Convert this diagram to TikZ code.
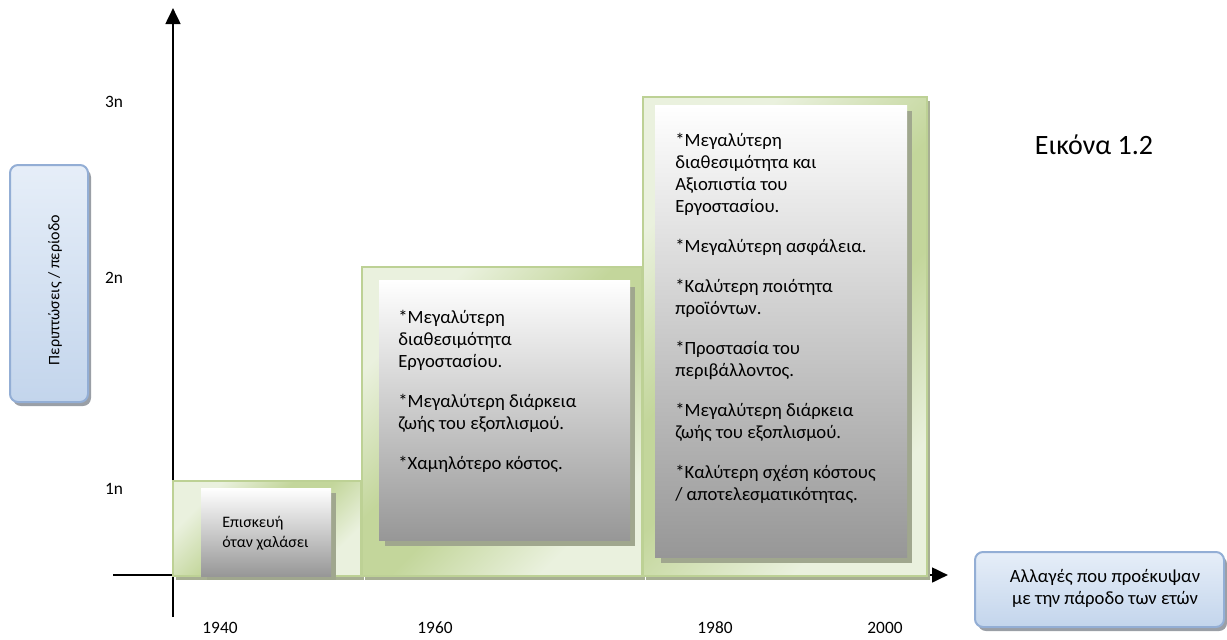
\documentclass[tikz,border=0pt]{standalone}
\usepackage{fontspec}
\setmainfont{Carlito}
\usetikzlibrary{arrows.meta}
\definecolor{greenlight}{HTML}{EAF1DE}
\definecolor{greendark}{HTML}{C3D69B}
\definecolor{greenedge}{HTML}{BDD195}
\definecolor{greenshadow}{HTML}{A7AF93}
\definecolor{panelshade}{HTML}{A0A78E}
\definecolor{panelbottom}{HTML}{979797}
\definecolor{bluelight}{HTML}{E6EEF8}
\definecolor{bluedark}{HTML}{C3D5EC}
\definecolor{blueedge}{HTML}{93AED5}
\definecolor{blueshadow}{HTML}{9A9FA6}
% light corners, green along the other diagonal
\pgfdeclarehorizontalshading{greenband}{100bp}{%
  color(0bp)=(greenlight); color(27bp)=(greenlight);
  color(45bp)=(greendark); color(55bp)=(greendark);
  color(73bp)=(greenlight); color(100bp)=(greenlight)}
\begin{document}
\begin{tikzpicture}[x=0.75pt,y=-0.75pt,
  axis/.style={line width=2pt,-{Triangle[length=12pt,width=11pt]}},
  stage/.style={shading=greenband,shading angle=-45,draw=greenedge,line width=1pt},
  stageshadow/.style={fill=greenshadow},
  panel/.style={top color=white,bottom color=panelbottom},
  panelshadow/.style={fill=panelshade},
  bluebox/.style={top color=bluelight,bottom color=bluedark,draw=blueedge,line width=1.5pt,rounded corners=6pt},
  blueshade/.style={fill=blueshadow,rounded corners=6pt},
  ticklabel/.style={font=\fontsize{13pt}{15pt}\selectfont,inner sep=0pt},
  paneltext/.style={anchor=north west,align=left,inner sep=0pt,font=\fontsize{14pt}{16.5pt}\selectfont},
  labeltext/.style={align=center,inner sep=0pt}]
\useasboundingbox (0,0) rectangle (1227,639);

% axes
\coordinate (ybot) at (173,617);
\coordinate (ytop) at (173,8);
\coordinate (xleft) at (113,575);
\coordinate (xright) at (948,575);
\draw[axis] (ybot) -- (ytop);
\draw[axis] (xleft) -- (xright);

% stage blocks
\fill[stageshadow] (176,484) rectangle (364,580);
\path[stage] (173,481) rectangle (361,576);
\fill[stageshadow] (365,270) rectangle (645,580);
\path[stage] (362,267) rectangle (642,576);
\fill[stageshadow] (646,101) rectangle (930,580);
\path[stage] (643,97) rectangle (927,576);

% text panels
\fill[panelshadow] (207,493) rectangle (336,580);
\fill[panel] (201,488) rectangle (331,576);
\fill[panelshadow] (385,287) rectangle (635,546);
\fill[panel] (379,280) rectangle (630,540);
\fill[panelshadow] (661,111) rectangle (912,563);
\fill[panel] (655,105) rectangle (907,557);

% side boxes
\fill[blueshade] (13,169) rectangle (91,406);
\path[bluebox] (10,165) rectangle (88,402);
\fill[blueshade] (978,556) rectangle (1227,631);
\path[bluebox] (975,552) rectangle (1224,627);

% value labels
\node[ticklabel] (l3) at (114,102) {3n};
\node[ticklabel] (l2) at (114,278) {2n};
\node[ticklabel] (l1) at (114,489) {1n};
\node[ticklabel] (y1940) at (220,628) {1940};
\node[ticklabel] (y1960) at (435,628) {1960};
\node[ticklabel] (y1980) at (715,628) {1980};
\node[ticklabel] (y2000) at (885,628) {2000};

\node[labeltext,rotate=90,font=\fontsize{12pt}{14pt}\selectfont] (ylab) at (55,290) {Περιπτώσεις / περίοδο};
\node[labeltext,font=\fontsize{14pt}{16.5pt}\selectfont] (xlab) at (1105,588) {Αλλαγές που προέκυψαν\\με την πάροδο των ετών};
\node[inner sep=0pt,font=\fontsize{21pt}{24pt}\selectfont] (title) at (1094,145) {Εικόνα 1.2};

% panel contents
\node[paneltext,font=\fontsize{12pt}{15pt}\selectfont] (t1) at (222,516) {Επισκευή\\όταν χαλάσει};
\node[paneltext] (t2) at (398,310) {*Μεγαλύτερη\\διαθεσιμότητα\\Εργοστασίου.\\[13.5pt]
*Μεγαλύτερη διάρκεια\\ζωής του εξοπλισμού.\\[13.5pt]
*Χαμηλότερο κόστος.};
\node[paneltext] (t3) at (675,133) {*Μεγαλύτερη\\διαθεσιμότητα και\\Αξιοπιστία του\\Εργοστασίου.\\[13.5pt]
*Μεγαλύτερη ασφάλεια.\\[13.5pt]
*Καλύτερη ποιότητα\\προϊόντων.\\[13.5pt]
*Προστασία του\\περιβάλλοντος.\\[13.5pt]
*Μεγαλύτερη διάρκεια\\ζωής του εξοπλισμού.\\[13.5pt]
*Καλύτερη σχέση κόστους\\/ αποτελεσματικότητας.};
\end{tikzpicture}
\end{document}
